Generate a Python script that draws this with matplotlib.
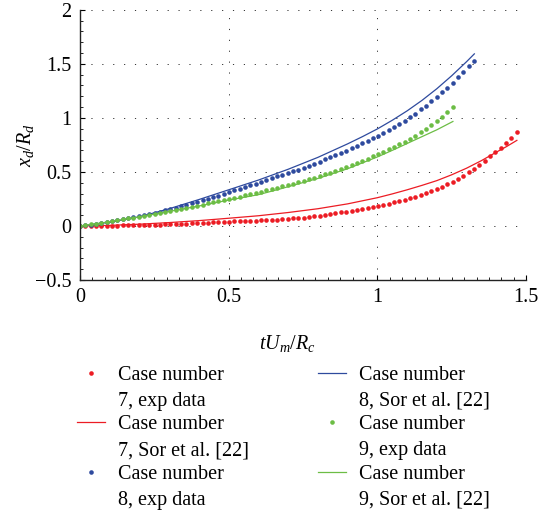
import numpy as np
import matplotlib
matplotlib.use("Agg")
import matplotlib.pyplot as plt
from matplotlib.ticker import MultipleLocator, AutoMinorLocator

# dimensionless time tU_m/R_c of the experimental frames
t_exp = [0.000, 0.018, 0.036, 0.054, 0.072, 0.090, 0.107, 0.125, 0.143, 0.161,
         0.179, 0.197, 0.215, 0.233, 0.251, 0.269, 0.286, 0.304, 0.322, 0.340,
         0.358, 0.376, 0.394, 0.412, 0.430, 0.448, 0.465, 0.483, 0.501, 0.519,
         0.537, 0.555, 0.573, 0.591, 0.609, 0.627, 0.644, 0.662, 0.680, 0.698,
         0.716, 0.734, 0.752, 0.770, 0.788, 0.806, 0.823, 0.841, 0.859, 0.877,
         0.895, 0.913, 0.931, 0.949, 0.967, 0.985, 1.002, 1.020, 1.038, 1.056,
         1.074, 1.092, 1.110, 1.128, 1.146, 1.164, 1.181, 1.199, 1.217, 1.235,
         1.253, 1.271, 1.289, 1.307, 1.325, 1.343, 1.361, 1.378, 1.396, 1.414,
         1.432, 1.450, 1.468]

# case 7, exp data (83 frames)
y7_exp = [0.000, 0.000, 0.001, 0.001, 0.002, 0.002, 0.003, 0.004, 0.005, 0.006,
          0.007, 0.008, 0.009, 0.010, 0.012, 0.013, 0.015, 0.017, 0.019, 0.021,
          0.023, 0.025, 0.027, 0.029, 0.031, 0.033, 0.035, 0.038, 0.040, 0.042,
          0.044, 0.046, 0.048, 0.050, 0.052, 0.054, 0.056, 0.059, 0.062, 0.066,
          0.070, 0.074, 0.078, 0.083, 0.089, 0.097, 0.105, 0.112, 0.119, 0.126,
          0.134, 0.142, 0.150, 0.158, 0.166, 0.174, 0.182, 0.193, 0.206, 0.219,
          0.231, 0.243, 0.256, 0.272, 0.289, 0.309, 0.327, 0.345, 0.364, 0.386,
          0.410, 0.437, 0.466, 0.497, 0.530, 0.566, 0.604, 0.643, 0.684, 0.726,
          0.770, 0.815, 0.866]

# case 8, exp data (75 frames)
y8_exp = [0.000, 0.006, 0.013, 0.021, 0.028, 0.036, 0.044, 0.052, 0.061, 0.071,
          0.080, 0.090, 0.101, 0.111, 0.123, 0.134, 0.145, 0.157, 0.170, 0.183,
          0.196, 0.209, 0.223, 0.238, 0.252, 0.267, 0.282, 0.297, 0.313, 0.329,
          0.345, 0.361, 0.377, 0.393, 0.409, 0.425, 0.441, 0.458, 0.476, 0.492,
          0.506, 0.522, 0.541, 0.559, 0.577, 0.596, 0.617, 0.636, 0.657, 0.676,
          0.697, 0.719, 0.739, 0.764, 0.789, 0.810, 0.836, 0.860, 0.886, 0.915,
          0.945, 0.973, 1.005, 1.040, 1.080, 1.114, 1.153, 1.191, 1.236, 1.279,
          1.322, 1.375, 1.426, 1.480, 1.530]

# case 9, exp data (71 frames)
y9_exp = [0.000, 0.007, 0.015, 0.022, 0.030, 0.038, 0.045, 0.053, 0.061, 0.070,
          0.078, 0.087, 0.095, 0.104, 0.113, 0.122, 0.131, 0.140, 0.150, 0.159,
          0.169, 0.179, 0.189, 0.199, 0.209, 0.219, 0.229, 0.240, 0.251, 0.261,
          0.272, 0.284, 0.295, 0.306, 0.318, 0.329, 0.341, 0.352, 0.368, 0.379,
          0.391, 0.404, 0.418, 0.432, 0.447, 0.462, 0.477, 0.492, 0.508, 0.525,
          0.542, 0.560, 0.580, 0.600, 0.622, 0.644, 0.666, 0.687, 0.709, 0.733,
          0.757, 0.781, 0.806, 0.834, 0.866, 0.898, 0.931, 0.967, 1.004, 1.050,
          1.100]

# Sor et al. [22] model curves
t7_sor = [0, 0.1, 0.2, 0.3, 0.4, 0.5, 0.6, 0.7, 0.8, 0.9, 1.0, 1.05, 1.1, 1.15,
          1.2, 1.25, 1.3, 1.35, 1.4, 1.435, 1.469]
y7_sor = [0, 0.006, 0.017, 0.032, 0.050, 0.072, 0.095, 0.125, 0.160, 0.205, 0.262,
          0.297, 0.335, 0.376, 0.420, 0.474, 0.535, 0.605, 0.683, 0.736, 0.792]

t8_sor = [0, 0.1, 0.2, 0.3, 0.4, 0.5, 0.6, 0.7, 0.8, 0.9, 0.95, 1.0, 1.05, 1.1,
          1.15, 1.2, 1.25, 1.3, 1.326]
y8_sor = [0, 0.035, 0.085, 0.160, 0.245, 0.335, 0.425, 0.525, 0.635, 0.760, 0.827,
          0.898, 0.978, 1.065, 1.162, 1.270, 1.390, 1.520, 1.592]

t9_sor = [0, 0.1, 0.2, 0.3, 0.4, 0.5, 0.6, 0.673, 0.75, 0.8, 0.9, 1.0, 1.06, 1.121,
          1.2, 1.254]
y9_sor = [0, 0.040, 0.085, 0.135, 0.185, 0.240, 0.290, 0.343, 0.402, 0.440, 0.530,
          0.639, 0.712, 0.790, 0.890, 0.967]

red = "#EC1C24"
blue = "#2E4A9E"
green = "#6CBD45"

plt.rcParams["font.family"] = ["Liberation Serif", "DejaVu Serif"]
plt.rcParams["mathtext.fontset"] = "custom"
plt.rcParams["mathtext.rm"] = "Liberation Serif"
plt.rcParams["mathtext.it"] = "Liberation Serif:italic"
plt.rcParams["font.size"] = 14.5

fig = plt.figure(figsize=(5.48, 5.13), dpi=100)
ax = fig.add_axes([0.146, 0.454, 0.814, 0.527])

n7, n8, n9 = len(y7_exp), len(y8_exp), len(y9_exp)
ms = 3.3
ax.plot(t_exp[:n7], y7_exp, "o", ms=ms, mew=0, color=red, label="Case number\n7, exp data")
ax.plot(t7_sor, y7_sor, "-", lw=0.9, color=red, label="Case number\n7, Sor et al. [22]")
ax.plot(t_exp[:n8], y8_exp, "o", ms=ms, mew=0, color=blue, label="Case number\n8, exp data")
ax.plot(t8_sor, y8_sor, "-", lw=0.9, color=blue, label="Case number\n8, Sor et al. [22]")
ax.plot(t_exp[:n9], y9_exp, "o", ms=ms, mew=0, color=green, label="Case number\n9, exp data")
ax.plot(t9_sor, y9_sor, "-", lw=0.9, color=green, label="Case number\n9, Sor et al. [22]")

ax.set_xlim(0, 1.5)
ax.set_ylim(-0.5, 2)
ax.xaxis.set_major_locator(MultipleLocator(0.5))
ax.yaxis.set_major_locator(MultipleLocator(0.5))
ax.xaxis.set_minor_locator(AutoMinorLocator(12))
ax.yaxis.set_minor_locator(AutoMinorLocator(5))
fmt = plt.FuncFormatter(lambda v, p: f"{v:g}".replace("-", "\u2212"))
ax.xaxis.set_major_formatter(fmt)
ax.yaxis.set_major_formatter(fmt)

for s in ["top", "right"]:
    ax.spines[s].set_visible(False)
for s in ["left", "bottom"]:
    ax.spines[s].set_linewidth(1.0)
    ax.spines[s].set_color("#222222")

ax.tick_params(which="major", direction="in", length=3.5, width=0.8, pad=6)
ax.tick_params(which="minor", direction="in", length=2, width=0.6)
ax.grid(True, which="major", linestyle=(0, (1.2, 10)), linewidth=0.7, color="#333333")

ax.set_xlabel("$tU_m/R_c$")
ax.xaxis.set_label_coords(0.466, -0.197)
ax.set_ylabel("$x_d/R_d$")
ax.yaxis.set_label_coords(-0.098, 0.5)

leg = ax.legend(loc="upper left", bbox_to_anchor=(-0.007, -0.317), ncol=2, frameon=False,
                handlelength=1.4, handletextpad=0.65, columnspacing=3.4,
                labelspacing=0.24, numpoints=1, borderaxespad=0, borderpad=0)
for t in leg.get_texts():
    t.set_linespacing(1.48)
# put each handle next to the first line of its two-line label
for col in leg._legend_handle_box.get_children():
    for row in col.get_children():
        row.align = "top"

fig.savefig("out.png", dpi=100)
